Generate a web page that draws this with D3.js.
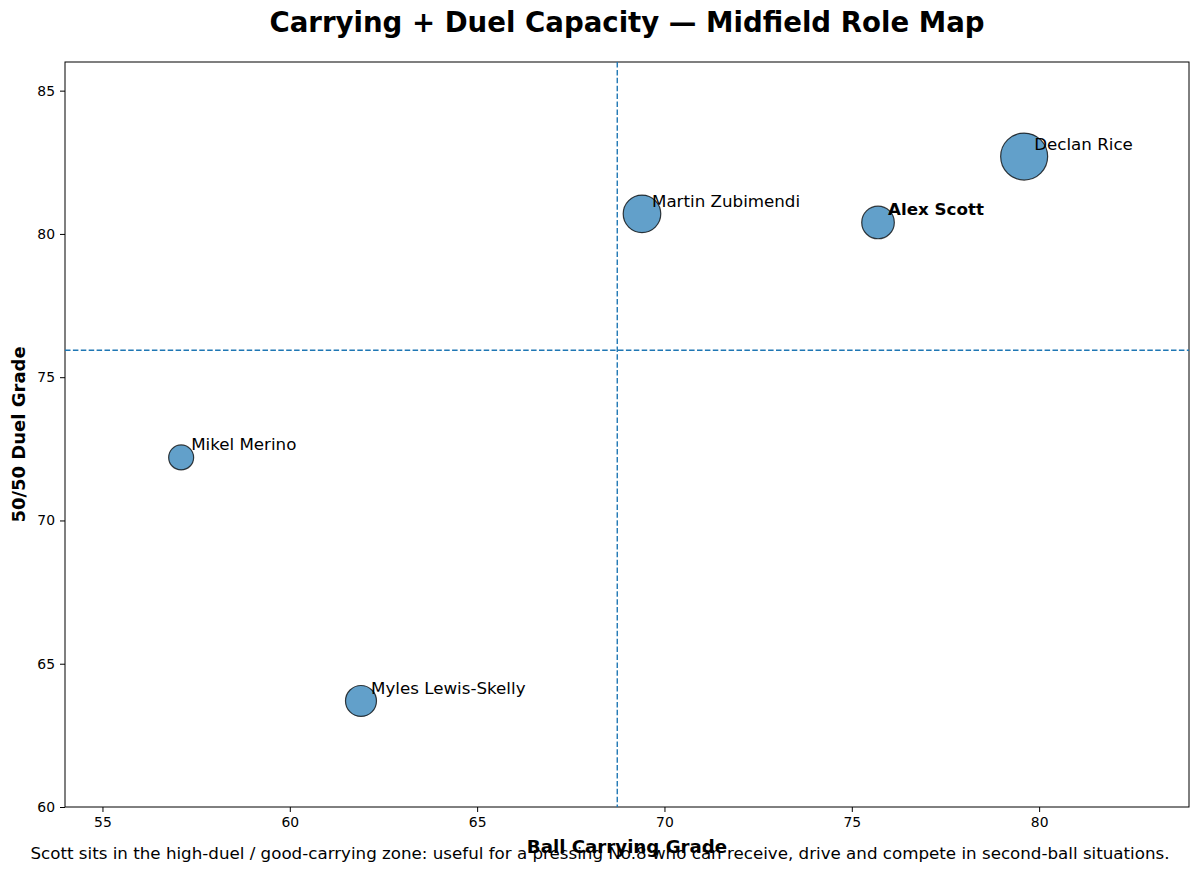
<!DOCTYPE html>
<html>
<head>
<meta charset="utf-8">
<script src="https://cdn.jsdelivr.net/npm/d3@7"></script>
<style>
  body { margin: 0; background: #fff; }
  svg { font-family: "DejaVu Sans", sans-serif; }
</style>
</head>
<body>
<svg id="chart"></svg>
<script>
var players = ["Declan Rice", "Martin Zubimendi", "Alex Scott", "Mikel Merino", "Myles Lewis-Skelly"];
var carrying = [79.6, 69.4, 75.7, 57.1, 61.9];
var duel = [82.7, 80.7, 80.4, 72.2, 63.7];
var volume = [900, 576, 433, 254, 391];   // bubble weight
var highlight = "Alex Scott";
var xTicks = [55, 60, 65, 70, 75, 80];
var yTicks = [60, 65, 70, 75, 80, 85];

var width = 1200, height = 873;
var margin = {top: 62, right: 11, bottom: 66, left: 65};

var svg = d3.select("#chart").attr("width", width).attr("height", height);

var x = d3.scaleLinear().domain([54, 84]).range([margin.left, width - margin.right]);
var y = d3.scaleLinear().domain([60, 86]).range([height - margin.bottom, margin.top]);
var r = d3.scaleSqrt().domain([0, d3.max(volume)]).range([0, 23.5]);

var data = players.map(function (p, i) {
  return {name: p, x: carrying[i], y: duel[i], v: volume[i]};
});

var meanX = d3.mean(carrying), meanY = d3.mean(duel);

// axes
var xAxis = svg.append("g")
  .attr("transform", "translate(0," + (height - margin.bottom) + ")")
  .call(d3.axisBottom(x).tickValues(xTicks).tickSize(5).tickPadding(5));
var yAxis = svg.append("g")
  .attr("transform", "translate(" + margin.left + ",0)")
  .call(d3.axisLeft(y).tickValues(yTicks).tickSize(5).tickPadding(5));

[xAxis, yAxis].forEach(function (a) {
  a.selectAll("text").style("font-size", "13.9px").attr("fill", "#000").style("font-family", "DejaVu Sans");
  a.selectAll("line").attr("stroke", "#000").attr("stroke-width", 1);
  a.select(".domain").remove();
});

// frame
svg.append("rect")
  .attr("x", margin.left).attr("y", margin.top)
  .attr("width", width - margin.left - margin.right)
  .attr("height", height - margin.bottom - margin.top)
  .attr("fill", "none").attr("stroke", "#000").attr("stroke-width", 1);

// mean reference lines
svg.append("line")
  .attr("x1", x(meanX)).attr("x2", x(meanX))
  .attr("y1", margin.top).attr("y2", height - margin.bottom)
  .attr("stroke", "#1f77b4").attr("stroke-width", 1.4).attr("stroke-dasharray", "5.5,2.4");
svg.append("line")
  .attr("x1", margin.left).attr("x2", width - margin.right)
  .attr("y1", y(meanY)).attr("y2", y(meanY))
  .attr("stroke", "#1f77b4").attr("stroke-width", 1.4).attr("stroke-dasharray", "5.5,2.4");

// bubbles
svg.selectAll("circle.pt")
  .data(data)
  .enter().append("circle")
  .attr("class", "pt")
  .attr("cx", function (d) { return x(d.x); })
  .attr("cy", function (d) { return y(d.y); })
  .attr("r", function (d) { return r(d.v); })
  .attr("fill", "#1f77b4").attr("fill-opacity", 0.7)
  .attr("stroke", "#000").attr("stroke-opacity", 0.75).attr("stroke-width", 1.2);

// labels
svg.selectAll("text.lbl")
  .data(data)
  .enter().append("text")
  .attr("class", "lbl")
  .attr("x", function (d) { return x(d.x) + 10; })
  .attr("y", function (d) { return y(d.y) - 7; })
  .style("font-size", "16.7px")
  .style("font-weight", function (d) { return d.name === highlight ? "bold" : "normal"; })
  .text(function (d) { return d.name; });

// title and axis labels
svg.append("text")
  .attr("x", (margin.left + width - margin.right) / 2).attr("y", 32)
  .attr("text-anchor", "middle")
  .style("font-size", "27.6px").style("font-weight", "bold")
  .text("Carrying + Duel Capacity \u2014 Midfield Role Map");

svg.append("text")
  .attr("x", (margin.left + width - margin.right) / 2).attr("y", 853)
  .attr("text-anchor", "middle")
  .style("font-size", "18.2px").style("font-weight", "bold")
  .text("Ball Carrying Grade");

svg.append("text")
  .attr("transform", "translate(25," + ((margin.top + height - margin.bottom) / 2) + ") rotate(-90)")
  .attr("text-anchor", "middle")
  .style("font-size", "18px").style("font-weight", "bold")
  .text("50/50 Duel Grade");

svg.append("text")
  .attr("x", width / 2).attr("y", 859)
  .attr("text-anchor", "middle")
  .style("font-size", "16.7px")
  .text("Scott sits in the high-duel / good-carrying zone: useful for a pressing No.8 who can receive, drive and compete in second-ball situations.");
</script>
</body>
</html>
